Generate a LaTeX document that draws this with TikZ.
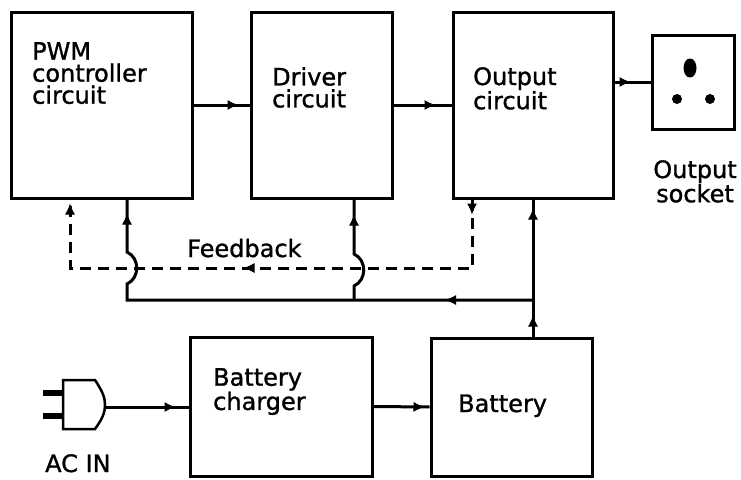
\documentclass[tikz,border=0pt]{standalone}
\usepackage{fontspec}
\setmainfont[FakeBold=1.2]{DejaVu Sans}
\usetikzlibrary{arrows.meta}
\usetikzlibrary{decorations.markings}
\tikzstyle{block}=[draw=black, line width=3pt, rectangle, inner sep=0pt]
\tikzstyle{wire}=[draw=black, line width=3pt]
\tikzstyle{feedback}=[wire, dash pattern=on 11pt off 7pt]
\tikzstyle{box_text}=[inner sep=0pt, align=left, font=\fontsize{24}{22}\selectfont]
\tikzstyle{low_text}=[box_text, font=\fontsize{24}{20}\selectfont]
\tikzset{arrow at/.style={postaction={decorate, decoration={markings,
      mark=at position #1 with {\arrow[line width=1pt]{Latex[length=11pt,width=10pt]}}}}}}

\begin{document}
\begin{tikzpicture}[x=1pt, y=-1pt]
              \useasboundingbox (0,0) rectangle (741,479);
              % blocks
              \node[block, minimum width=181pt, minimum height=186pt] (pwm) at (101.5,105){};
              \node[block, minimum width=141pt, minimum height=186pt] (driver) at (321.5,105){};
              \node[block, minimum width=160pt, minimum height=186pt] (output) at (533,105){};
              \node[block, minimum width=82pt, minimum height=94pt] (socket) at (693,82){};
              \node[block, minimum width=182pt, minimum height=139pt] (charger) at (281,406.5){};
              \node[block, minimum width=161pt, minimum height=138pt] (battery) at (511.5,407){};
              % texts
              \node[box_text, anchor=north west] (pwm_text) at (32,42){PWM\\controller\\circuit};
              \node[box_text, anchor=north west] (driver_text) at (272,67){Driver\\circuit};
              \node[box_text, anchor=north west] (output_text) at (473,67){Output\\circuit};
              \node[low_text, anchor=north west] (charger_text) at (213,368){Battery\\charger};
              \node[low_text, anchor=base west] (battery_text) at (458,412){Battery};
              \node[low_text, align=center, anchor=north] (socket_text) at (695,160){Output\\socket};
              \node[low_text, anchor=base west] (feedback_text) at (187,257){Feedback};
              \node[low_text, anchor=base west] (acin_text) at (45,472){AC IN};
              % socket holes
              \fill (690,68) ellipse [x radius=6.5pt, y radius=9.5pt];
              \fill (677,99) circle [radius=5pt];
              \fill (710,99) circle [radius=5pt];
              % plug
              \draw[line width=2.5pt, fill=white] (63,380) -- (95,380)
                .. controls (103,392) and (105,398) .. (105,405)
                .. controls (105,412) and (103,418) .. (95,429) -- (63,429) -- cycle;
              \fill (43,390) rectangle (63,396);
              \fill (43,413) rectangle (63,419);
              \coordinate (plug) at (105,407);
              % junctions
              \coordinate (bus_l) at (127,300);
              \coordinate (bus_m) at (354,300);
              \coordinate (bus_r) at (533,300);
              \coordinate (fb_l) at (70,268);
              \coordinate (fb_r) at (472,268);
              % forward path
              \draw[wire, arrow at=-11pt](pwm.east) -- (driver.west);
              \draw[wire, arrow at=-16pt](driver.east) -- (output.west);
              \draw[wire, arrow at=-20pt](socket.west -| output.east) -- (socket.west);
              \draw[wire, arrow at=-13pt](plug) -- (plug -| charger.west);
              \draw[wire, arrow at=-5pt](charger.east) -- (battery.west);
              \draw[wire, arrow at=21pt, arrow at=-9pt](battery.north -| output.south) -- (output.south);
              % feedback
              \draw[feedback, arrow at=15pt, arrow at=297pt, arrow at=-4pt]
                (output.south -| fb_r) -- (fb_r) -- (fb_l) -- (pwm.south -| fb_l);
              % supply lines
              \draw[wire, arrow at=88pt, arrow at=-14pt](bus_r) -- (bus_l) -- (127,284)
                .. controls (140,278) and (140,258) .. (127,252) -- (bus_l |- pwm.south);
              \draw[wire, arrow at=-15pt](bus_m) -- (354,286)
                .. controls (367,280) and (367,260) .. (354,254) -- (bus_m |- driver.south);
            \end{tikzpicture}
\end{document}
